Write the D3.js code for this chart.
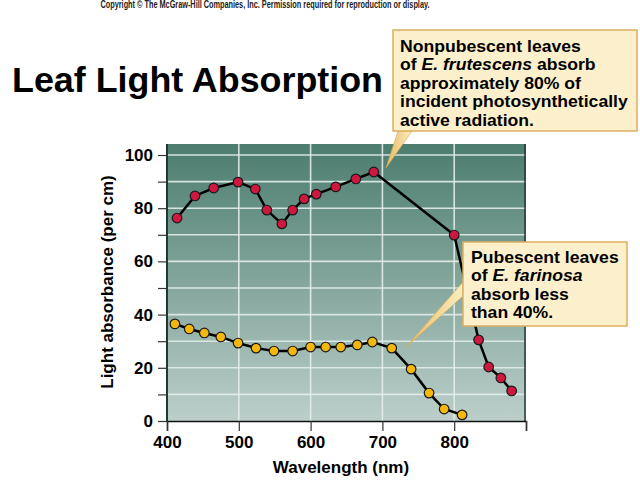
<!DOCTYPE html>
<html><head><meta charset="utf-8">
<script src="https://cdn.jsdelivr.net/npm/d3@7"></script>
<style>body{margin:0;background:#fff}svg{display:block}text{font-family:"Liberation Sans",Arial,sans-serif}</style>
</head><body><svg id="c" width="640" height="480"></svg>
<script>
const nonpubWave = [414,439,465,499,523,539,560,575,591,608,635,663,688,800,834,848,865,880];
const nonpubAbs  = [76.3,84.6,87.6,89.8,87.2,79.3,74.1,79.3,83.5,85.3,88.0,91.0,93.6,69.9,30.5,20.3,16.2,11.3];
const pubWave = [411,431,452,475,499,524,549,575,600,621,642,665,686,713,740,765,786,811];
const pubAbs  = [36.5,34.6,33.1,31.6,29.3,27.4,26.3,26.3,27.8,27.8,27.8,28.6,29.7,27.4,19.5,10.5,4.5,2.3];
const xTicks = [400,500,600,700,800,900];
const xLabels = [400,500,600,700,800];
const yTicks = [0,20,40,60,80,100];
const title = "Leaf Light Absorption";
const copyright = "Copyright \u00A9 The McGraw-Hill Companies, Inc. Permission required for reproduction or display.";
const note1 = [["Nonpubescent leaves"],["of ",["E. frutescens"]," absorb"],["approximately 80% of"],["incident photosynthetically"],["active radiation."]];
const note2 = [["Pubescent leaves"],["of ",["E. farinosa"]],["absorb less"],["than 40%."]];

const svg = d3.select("#c");
const L=167,R=526,T=144,B=421;
const x = d3.scaleLinear().domain([400,900]).range([L,R]);
const y = d3.scaleLinear().domain([0,100]).range([B,B-266]);

const defs = svg.append("defs");
const g = defs.append("linearGradient").attr("id","bg").attr("x1",0).attr("x2",0).attr("y1",0).attr("y2",1);
g.append("stop").attr("offset","0%").attr("stop-color","#4c7d6f");
g.append("stop").attr("offset","100%").attr("stop-color","#bccfca");
const pg = defs.append("linearGradient").attr("id","pt").attr("x1",0).attr("x2",1).attr("y1",0).attr("y2",0);
pg.append("stop").attr("offset","0%").attr("stop-color","#e8b860");
pg.append("stop").attr("offset","100%").attr("stop-color","#fbeec0");

// copyright
svg.append("text").attr("x",265).attr("y",8).attr("text-anchor","middle").attr("font-size",10)
  .attr("font-weight","bold").attr("fill","#222").attr("textLength",329).attr("lengthAdjust","spacingAndGlyphs").text(copyright);
// title
svg.append("text").attr("x",12).attr("y",92).attr("font-size",35).attr("font-weight","bold").attr("fill","#000")
  .attr("textLength",371).attr("lengthAdjust","spacingAndGlyphs").text(title);

// plot background
svg.append("rect").attr("x",L).attr("y",T).attr("width",R-L).attr("height",B-T).attr("fill","url(#bg)");
// grid
const gridY = d3.range(10,101,10);
svg.append("g").selectAll("line").data(gridY).join("line")
  .attr("x1",L).attr("x2",R).attr("y1",d=>y(d)).attr("y2",d=>y(d))
  .attr("stroke","#e4eeea").attr("stroke-width",1.6).attr("opacity",0.9);
svg.append("g").selectAll("line").data([500,600,700,800]).join("line")
  .attr("y1",T).attr("y2",B).attr("x1",d=>x(d)).attr("x2",d=>x(d))
  .attr("stroke","#e4eeea").attr("stroke-width",1.6).attr("opacity",0.9);
// borders
svg.append("line").attr("x1",R-1).attr("x2",R-1).attr("y1",T).attr("y2",B).attr("stroke","#1f3a33").attr("stroke-width",1.5);
svg.append("line").attr("x1",L).attr("x2",L).attr("y1",T).attr("y2",B).attr("stroke","#1f3a33").attr("stroke-width",2);

// axes
const xAxis = d3.axisBottom(x).tickValues(xTicks).tickSize(10).tickPadding(5)
  .tickFormat(d=>xLabels.includes(d)?d:"");
const gx = svg.append("g").attr("transform",`translate(0,${B})`).call(xAxis);
gx.select(".domain").attr("stroke","#111").attr("stroke-width",1.5);
gx.selectAll(".tick line").attr("stroke","#333").attr("stroke-width",1.2);
gx.selectAll("text").attr("font-size",17).attr("font-weight","bold").attr("fill","#000").attr("font-family","Liberation Sans, Arial, sans-serif");

const yAxis = d3.axisLeft(y).tickValues(d3.range(0,101,10)).tickSize(9).tickPadding(5)
  .tickFormat(d=>yTicks.includes(d)?d:"");
const gy = svg.append("g").attr("transform",`translate(${L},0)`).call(yAxis);
gy.select(".domain").remove();
gy.selectAll(".tick line").attr("stroke","#333").attr("stroke-width",1.2);
gy.selectAll("text").attr("font-size",17).attr("font-weight","bold").attr("fill","#000").attr("font-family","Liberation Sans, Arial, sans-serif");

svg.append("text").attr("x",341).attr("y",473).attr("text-anchor","middle").attr("font-size",17).attr("font-weight","bold").text("Wavelength (nm)");
svg.append("text").attr("transform","translate(113,282) rotate(-90)").attr("text-anchor","middle").attr("font-size",17).attr("font-weight","bold").text("Light absorbance (per cm)");

// series
const line = d3.line().x(d=>x(d[0])).y(d=>y(d[1]));
const nonpub = nonpubWave.map((w,i)=>[w,nonpubAbs[i]]);
const pub = pubWave.map((w,i)=>[w,pubAbs[i]]);
svg.append("path").datum(pub).attr("d",line).attr("fill","none").attr("stroke","#000").attr("stroke-width",2.5);
svg.append("path").datum(nonpub).attr("d",line).attr("fill","none").attr("stroke","#000").attr("stroke-width",2.5);
svg.append("g").selectAll("circle").data(pub).join("circle")
  .attr("cx",d=>x(d[0])).attr("cy",d=>y(d[1])).attr("r",4.8).attr("fill","#f4b70e").attr("stroke","#1a1a1a").attr("stroke-width",1.2);
svg.append("g").selectAll("circle").data(nonpub).join("circle")
  .attr("cx",d=>x(d[0])).attr("cy",d=>y(d[1])).attr("r",4.8).attr("fill","#d0173f").attr("stroke","#1a1a1a").attr("stroke-width",1.2);

// callouts
function callout(bx,by,bw,bh,lines,tx,ty,ptr){
  svg.append("path").attr("d",`M${ptr[0][0]},${ptr[0][1]} L${ptr[1][0]},${ptr[1][1]} L${ptr[2][0]},${ptr[2][1]} Z`)
    .attr("fill","url(#pt)").attr("stroke","#d9a850").attr("stroke-width",0.6);
  svg.append("rect").attr("x",bx).attr("y",by).attr("width",bw).attr("height",bh)
    .attr("fill","#fcf0cc").attr("stroke","#dcae62").attr("stroke-width",1.5);
  const t = svg.append("text").attr("x",0).attr("y",0).attr("font-size",16.3).attr("font-weight","bold").attr("fill","#000")
    .attr("transform",`translate(${tx},${ty}) scale(1.08,1)`);
  lines.forEach((ln,i)=>{
    ln.forEach((p,j)=>{
      const s = t.append("tspan");
      if(j===0) s.attr("x",0).attr("dy",i===0?0:18.4);
      if(Array.isArray(p)) s.attr("font-style","italic").text(p[0]);
      else s.text(p);
    });
  });
}
callout(393,30,244,101,note1,400,52,[[398,131],[412,131],[386,168]]);
callout(463,242,164,84,note2,471,263,[[463,282],[463,296],[405,348]]);
</script></body></html>
